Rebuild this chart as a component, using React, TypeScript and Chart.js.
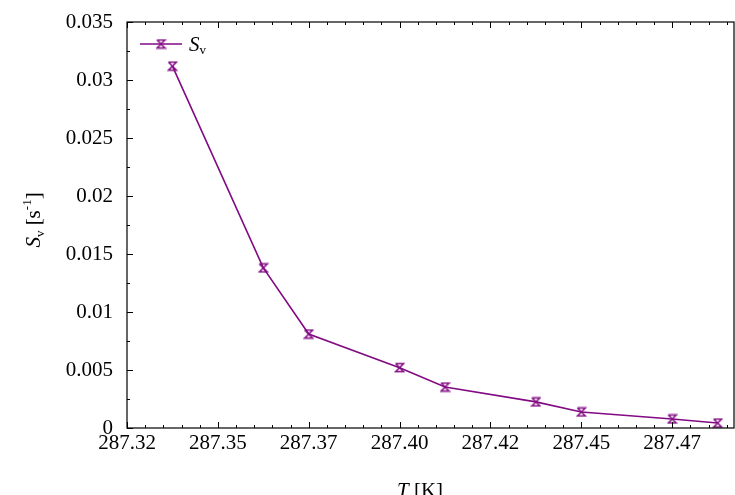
import React, { useEffect, useRef } from "react";
import { Chart, registerables } from "chart.js";

Chart.register(...registerables);

// Temperature (K) and specific rate S_v (1/s)
const temperatures = [287.3375, 287.3625, 287.375, 287.4, 287.4125, 287.4375, 287.45, 287.475, 287.4875];
const svValues = [0.0312, 0.0138, 0.0081, 0.0052, 0.00353, 0.00225, 0.00138, 0.00078, 0.00043];

const xTickValues = [287.325, 287.35, 287.375, 287.4, 287.425, 287.45, 287.475];
const xTickLabels = ["287.32", "287.35", "287.37", "287.40", "287.42", "287.45", "287.47"];
const yTickValues = [0, 0.005, 0.01, 0.015, 0.02, 0.025, 0.03, 0.035];
const yTickLabels = ["0", "0.005", "0.01", "0.015", "0.02", "0.025", "0.03", "0.035"];

const X_MIN = 287.325;
const X_MAX = 287.492;
const X_MINOR = 0.005;
const Y_MINOR = 0.0025;

const PURPLE = "#820a82";
const SERIF = "'Liberation Serif', 'Times New Roman', serif";
const FONT_SIZE = 21;

function makeHourglass(): HTMLCanvasElement {
  const c = document.createElement("canvas");
  c.width = 11;
  c.height = 11;
  const g = c.getContext("2d")!;
  g.strokeStyle = PURPLE;
  g.lineWidth = 1.5;
  g.beginPath();
  g.moveTo(1.5, 1.5);
  g.lineTo(9.5, 1.5);
  g.lineTo(1.5, 9.5);
  g.lineTo(9.5, 9.5);
  g.lineTo(1.5, 1.5);
  g.stroke();
  return c;
}

const hourglass = typeof document !== "undefined" ? makeHourglass() : (null as any);

const decorPlugin = {
  id: "decor",
  afterDraw(chart: any) {
    const ctx = chart.ctx as CanvasRenderingContext2D;
    const { left, right, top, bottom } = chart.chartArea;
    const xs = chart.scales.x;
    const ys = chart.scales.y;
    ctx.save();
    ctx.strokeStyle = "#000";
    ctx.lineWidth = 1.2;
    ctx.strokeRect(left, top, right - left, bottom - top);

    // x ticks (bottom and top, pointing inward)
    ctx.lineWidth = 1;
    const nx = Math.round((X_MAX - X_MIN) / X_MINOR);
    for (let i = 0; i <= nx; i++) {
      const v = X_MIN + i * X_MINOR;
      const px = Math.round(xs.getPixelForValue(v)) + 0.5;
      const major = i % 5 === 0;
      const len = major ? 6 : 3;
      ctx.beginPath();
      ctx.moveTo(px, bottom);
      ctx.lineTo(px, bottom - len);
      ctx.moveTo(px, top);
      ctx.lineTo(px, top + len);
      ctx.stroke();
    }
    // y ticks (left, pointing inward)
    for (let i = 0; i <= 14; i++) {
      const v = i * Y_MINOR;
      const py = Math.round(ys.getPixelForValue(v)) + 0.5;
      const len = i % 2 === 0 ? 6 : 3;
      ctx.beginPath();
      ctx.moveTo(left, py);
      ctx.lineTo(left + len, py);
      ctx.stroke();
    }

    // legend
    const ly = top + 22;
    ctx.strokeStyle = PURPLE;
    ctx.lineWidth = 1.6;
    ctx.beginPath();
    ctx.moveTo(left + 13, ly);
    ctx.lineTo(left + 55, ly);
    ctx.stroke();
    ctx.drawImage(hourglass, left + 34 - 5.5, ly - 5.5);
    ctx.fillStyle = "#000";
    ctx.textBaseline = "alphabetic";
    ctx.textAlign = "left";
    ctx.font = `italic ${FONT_SIZE}px ${SERIF}`;
    ctx.fillText("S", left + 62, ly + 7);
    const sw = ctx.measureText("S").width;
    ctx.font = `13px ${SERIF}`;
    ctx.fillText("v", left + 62 + sw, ly + 10);

    // x title
    ctx.font = `italic ${FONT_SIZE}px ${SERIF}`;
    const tW = ctx.measureText("T").width;
    ctx.font = `${FONT_SIZE}px ${SERIF}`;
    const kW = ctx.measureText(" [K]").width;
    const tx = 420 - (tW + kW) / 2;
    const tyBase = 497;
    ctx.font = `italic ${FONT_SIZE}px ${SERIF}`;
    ctx.fillText("T", tx, tyBase);
    ctx.font = `${FONT_SIZE}px ${SERIF}`;
    ctx.fillText(" [K]", tx + tW, tyBase);

    // y title (rotated)
    ctx.translate(40, 220);
    ctx.rotate(-Math.PI / 2);
    const parts: [string, string, number][] = [
      ["S", `italic ${FONT_SIZE}px ${SERIF}`, 0],
      ["v", `13px ${SERIF}`, 4],
      [" [s", `${FONT_SIZE}px ${SERIF}`, 0],
      ["-1", `13px ${SERIF}`, -9],
      ["]", `${FONT_SIZE}px ${SERIF}`, 0],
    ];
    let total = 0;
    for (const [t, f] of parts) {
      ctx.font = f;
      total += ctx.measureText(t).width;
    }
    let cx = -total / 2;
    for (const [t, f, dy] of parts) {
      ctx.font = f;
      ctx.fillText(t, cx, dy);
      cx += ctx.measureText(t).width;
    }
    ctx.restore();
  },
};

export default function App() {
  const canvasRef = useRef<HTMLCanvasElement | null>(null);

  useEffect(() => {
    document.body.style.margin = "0";
    const canvas = canvasRef.current;
    if (!canvas) return;
    const chart = new Chart(canvas, {
      type: "line",
      data: {
        datasets: [
          {
            label: "Sv",
            data: temperatures.map((t, i) => ({ x: t, y: svValues[i] })),
            borderColor: PURPLE,
            borderWidth: 1.6,
            pointStyle: hourglass,
            pointRadius: 5,
            fill: false,
            tension: 0,
          },
        ],
      },
      options: {
        animation: false,
        responsive: false,
        maintainAspectRatio: false,
        layout: { autoPadding: false, padding: { left: 0, top: 22, right: 1, bottom: 0 } },
        plugins: { legend: { display: false }, tooltip: { enabled: false } },
        scales: {
          x: {
            type: "linear",
            min: X_MIN,
            max: X_MAX,
            grid: { display: false, drawTicks: false },
            border: { display: false },
            afterBuildTicks: (scale: any) => {
              scale.ticks = xTickValues.map((v) => ({ value: v }));
            },
            afterFit: (scale: any) => {
              scale.height = 67;
              scale.paddingLeft = 0;
              scale.paddingRight = 0;
            },
            ticks: {
              autoSkip: false,
              maxRotation: 0,
              padding: 3,
              color: "#000",
              font: { family: SERIF, size: FONT_SIZE },
              callback: (_v: any, i: number) => xTickLabels[i],
            },
          },
          y: {
            min: 0,
            max: 0.035,
            grid: { display: false, drawTicks: false },
            border: { display: false },
            afterBuildTicks: (scale: any) => {
              scale.ticks = yTickValues.map((v) => ({ value: v }));
            },
            afterFit: (scale: any) => {
              scale.width = 127;
              scale.paddingTop = 0;
              scale.paddingBottom = 0;
            },
            ticks: {
              autoSkip: false,
              padding: 14,
              color: "#000",
              font: { family: SERIF, size: FONT_SIZE },
              callback: (_v: any, i: number) => yTickLabels[i],
            },
          },
        },
      },
      plugins: [decorPlugin],
    });
    return () => chart.destroy();
  }, []);

  return (
    <div style={{ position: "absolute", left: 0, top: 0, width: 735, height: 495, background: "#fff" }}>
      <canvas ref={canvasRef} width={735} height={495} style={{ width: 735, height: 495 }} />
    </div>
  );
}
